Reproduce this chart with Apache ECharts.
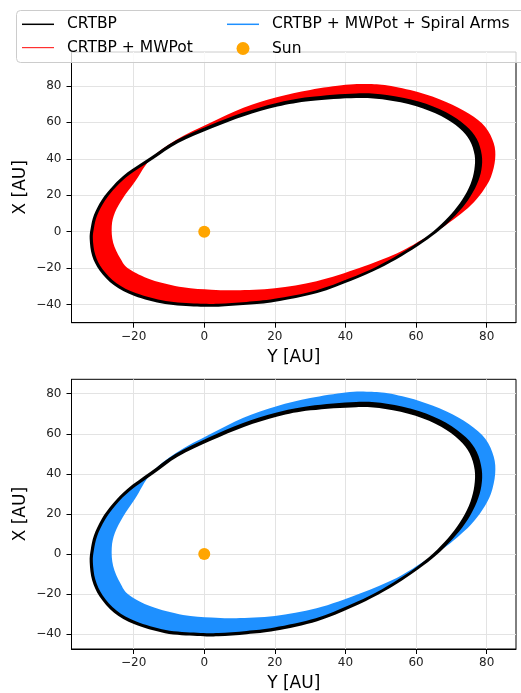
<!DOCTYPE html>
<html><head><meta charset="utf-8">
<script src="https://cdn.jsdelivr.net/npm/echarts@6/dist/echarts.min.js"></script>
<style>html,body{margin:0;padding:0;background:#fff}#c{width:521px;height:693px}</style>
</head><body><div id="c"></div>
<script>
// ---- data: [Y, X] in AU ----
// CRTBP band: outer and inner edge of the black orbit band
const crtbpOuter = [[-32.45,-4],[-31.75,-13.2],[-29.6,-21.4],[-25.55,-29.35],[-19.75,-35.2],[-11.1,-39.6],[-2,-41.0],[4,-41.1],[12.05,-40.1],[20.1,-38.4],[32,-33.6],[41.6,-26.9],[49.35,-20.3],[55.9,-13.45],[61.95,-5.95],[67.05,1.5],[71.25,9.25],[74.7,17.3],[77.2,25.9],[78.5,34],[78.6,42.1],[77.2,50.9],[74.1,58.2],[68.5,65.5],[60.75,71.4],[51.7,75.0],[43,75.9],[29.85,73.9],[20.25,70.55],[10.8,65.25],[1.25,58.15],[-8.2,49.95],[-15.3,40.85],[-21.8,32.45],[-25.8,25.25],[-29.05,17.45],[-31.25,9.15],[-32.15,2.05]];
const crtbpInner = [[-31.55,-4],[-30.85,-12.8],[-28.8,-20.6],[-24.85,-28.25],[-19.25,-33.8],[-10.9,-38.0],[-2,-39.4],[4,-39.5],[11.95,-38.5],[19.9,-36.8],[31.6,-32.2],[41.0,-25.7],[48.65,-19.3],[55.1,-12.55],[61.05,-5.25],[65.95,2.1],[69.95,9.75],[73.1,17.7],[75.4,26.1],[76.5,34],[76.6,41.9],[75.2,50.1],[72.3,56.8],[67.1,63.5],[59.85,69.0],[51.3,72.4],[43,73.3],[30.15,71.7],[20.75,68.65],[11.4,63.55],[1.95,56.65],[-7.4,48.65],[-14.5,39.75],[-21.0,31.55],[-25.0,24.55],[-28.15,16.95],[-30.35,8.85],[-31.25,1.95]];
// CRTBP + MWPot: first and last orbit of the precessing family (band = area swept between them)
const mwpotFirst = [[-32.0,-4],[-31.3,-13],[-29.2,-21],[-25.2,-28.8],[-19.5,-34.5],[-11,-38.8],[-2,-40.2],[4,-40.3],[12,-39.3],[20,-37.6],[31.8,-32.9],[41.3,-26.3],[49,-19.8],[55.5,-13],[61.5,-5.6],[66.5,1.8],[70.6,9.5],[73.9,17.5],[76.3,26],[77.5,34],[77.6,42],[76.2,50.5],[73.2,57.5],[67.8,64.5],[60.3,70.2],[51.5,73.7],[43,74.6],[30,72.8],[20.5,69.6],[11.1,64.4],[1.6,57.4],[-7.8,49.3],[-14.9,40.3],[-21.4,32.0],[-25.4,24.9],[-28.6,17.2],[-30.8,9.0],[-31.7,2]];
const mwpotLast = [[-26.2,3],[-25.8,-6],[-23.8,-14.5],[-21.3,-20.5],[-15,-26.3],[-6,-30.5],[2,-31.8],[9,-32.1],[20,-31.0],[31.8,-27.2],[44.1,-19.8],[54.5,-12],[61.5,-4.6],[67,1.8],[71.8,8.5],[75.5,14.5],[78.8,22],[81.2,30],[82.4,40],[82,48.5],[79.6,57.5],[75,64.7],[68.5,71.2],[60.5,76.6],[52,80.2],[46,81],[40,80.6],[30,77.8],[20.5,73.8],[11.1,68],[1.6,59.7],[-7.8,50.6],[-15.0,40.3],[-19.6,27.5],[-23,18.5],[-25.3,10.5]];
// CRTBP + MWPot + Spiral Arms: first and last orbit
const spiralFirst = [[-32.0,-4],[-31.3,-13],[-29.2,-21],[-25.2,-28.8],[-19.5,-34.5],[-11,-38.8],[-2,-40.2],[4,-40.3],[12,-39.3],[20,-37.6],[31.8,-32.9],[41.3,-26.3],[49,-19.8],[55.5,-13],[61.5,-5.6],[66.5,1.8],[70.6,9.5],[73.9,17.5],[76.3,26],[77.5,34],[77.6,42],[76.2,50.5],[73.2,57.5],[67.8,64.5],[60.3,70.2],[51.5,73.7],[43,74.6],[30,72.8],[20.5,69.6],[11.1,64.4],[1.6,57.4],[-7.8,49.3],[-14.9,40.3],[-21.4,32.0],[-25.4,24.9],[-28.6,17.2],[-30.8,9.0],[-31.7,2]];
const spiralLast = [[-26.2,3],[-25.8,-6],[-23.8,-14.5],[-21.3,-20.5],[-15,-26.3],[-6,-30.5],[2,-31.8],[9,-32.1],[20,-31.0],[31.8,-27.2],[44.1,-19.8],[54.5,-12],[61.5,-4.6],[67,1.8],[71.8,8.5],[75.5,14.5],[78.8,22],[81.2,30],[82.4,40],[82,48.5],[79.6,57.5],[75,64.7],[68.5,71.2],[60.5,76.6],[52,80.2],[46,81],[40,80.6],[30,77.8],[20.5,73.8],[11.1,68],[1.6,59.7],[-7.8,50.6],[-15.0,40.3],[-19.6,27.5],[-23,18.5],[-25.3,10.5]];
const sunPos = [[0, 0]];
const xTicks = [-20, 0, 20, 40, 60, 80];
const yTicks = [-40, -20, 0, 20, 40, 60, 80];
const names = ['CRTBP', 'CRTBP + MWPot', 'CRTBP + MWPot + Spiral Arms', 'Sun'];

// ---- rendering helpers ----
const FONT = 'DejaVu Sans';
function f(v){ return v.toFixed(2); }
function loopPath(pts){
  const n = pts.length;
  let d = 'M' + f(pts[0][0]) + ' ' + f(pts[0][1]);
  for (let i = 0; i < n; i++) {
    const p0 = pts[(i - 1 + n) % n], p1 = pts[i], p2 = pts[(i + 1) % n], p3 = pts[(i + 2) % n];
    const c1x = p1[0] + (p2[0] - p0[0]) / 6, c1y = p1[1] + (p2[1] - p0[1]) / 6;
    const c2x = p2[0] - (p3[0] - p1[0]) / 6, c2y = p2[1] - (p3[1] - p1[1]) / 6;
    d += 'C' + f(c1x) + ' ' + f(c1y) + ' ' + f(c2x) + ' ' + f(c2y) + ' ' + f(p2[0]) + ' ' + f(p2[1]);
  }
  return d + 'Z';
}
function area(pts){
  let a = 0;
  for (let i = 0; i < pts.length; i++) { const p = pts[i], q = pts[(i + 1) % pts.length]; a += p[0] * q[1] - q[0] * p[1]; }
  return a;
}
// two closed curves drawn with opposite winding: fills the region lying inside exactly one of them
function band(name, gi, loopA, loopB, color, z){
  return {
    type: 'custom', name: name, xAxisIndex: gi, yAxisIndex: gi, z: z, silent: true,
    itemStyle: { color: color },
    data: [loopA[0]],
    renderItem: function (params, api) {
      if (params.dataIndex !== 0) return null;
      const a = loopA.map(p => api.coord(p));
      let b = loopB.map(p => api.coord(p));
      if (Math.sign(area(a)) === Math.sign(area(b))) b = b.slice().reverse();
      return { type: 'path', shape: { pathData: loopPath(a) + ' ' + loopPath(b) }, style: { fill: color } };
    }
  };
}
const minus = v => String(v).replace('-', '\u2212');
function xAx(gi){
  return {
    type: 'value', gridIndex: gi, min: -37.6, max: 88.3, splitNumber: 6,
    name: 'Y [AU]', nameLocation: 'middle', nameGap: 26, nameMoveOverlap: false,
    nameTextStyle: { fontFamily: FONT, fontSize: 17, color: '#000' },
    axisLine: { onZero: false, lineStyle: { color: '#000', width: 1 } },
    axisTick: { show: true, length: 5, customValues: xTicks, lineStyle: { color: '#000' } },
    axisLabel: { customValues: xTicks, margin: 8, fontFamily: FONT, fontSize: 12, color: '#222', formatter: minus },
    splitLine: { show: true, lineStyle: { color: '#e3e3e3', width: 1 } }
  };
}
function yAx(gi, mn, mx){
  return {
    type: 'value', gridIndex: gi, min: mn, max: mx, splitNumber: 7,
    name: 'X [AU]', nameLocation: 'middle', nameGap: 42, nameRotate: 90, nameMoveOverlap: false,
    nameTextStyle: { fontFamily: FONT, fontSize: 17, color: '#000' },
    axisLine: { onZero: false, lineStyle: { color: '#000', width: 1 } },
    axisTick: { show: true, length: 5, customValues: yTicks, lineStyle: { color: '#000' } },
    axisLabel: { customValues: yTicks, margin: 10, fontFamily: FONT, fontSize: 12, color: '#222', formatter: minus },
    splitLine: { show: true, lineStyle: { color: '#e3e3e3', width: 1 } }
  };
}
function leg(name, icon, color, left, top, w, h, pad){
  return {
    data: [{ name: name, icon: icon, itemStyle: { color: color, opacity: 1 } }],
    left: left, top: top, itemWidth: w, itemHeight: h, padding: 0, z: 20,
    selectedMode: false,
    textStyle: { fontFamily: FONT, fontSize: 15.5, color: '#000', padding: [0, 0, 0, pad] }
  };
}

const chart = echarts.init(document.getElementById('c'), null, { renderer: 'canvas' });
chart.setOption({
  animation: false,
  backgroundColor: '#fff',
  grid: [
    { left: 71.5, right: 5, top: 52, height: 270.7, show: true, borderColor: '#000', borderWidth: 1 },
    { left: 71.5, right: 5, top: 379.3, height: 270.7, show: true, borderColor: '#000', borderWidth: 1 }
  ],
  xAxis: [xAx(0), xAx(1)],
  yAxis: [yAx(0, -49.9, 98.6), yAx(1, -47.5, 87.2)],
  legend: [
    leg(names[0], 'rect', '#000', 22, 16.3, 32, 1.5, 8),
    leg(names[1], 'rect', '#ff3030', 22, 39.6, 32, 1.2, 8),
    leg(names[2], 'rect', '#1e90ff', 227, 16.3, 32, 1.5, 8),
    leg(names[3], 'circle', '#ffa500', 236.5, 40.5, 13, 13, 17.5)
  ],
  graphic: [{
    type: 'rect', z: 10, silent: true,
    shape: { x: 16.5, y: 10.5, width: 520, height: 52, r: 4 },
    style: { fill: 'rgba(255,255,255,0.8)', stroke: '#cccccc', lineWidth: 1 }
  }],
  series: [
    band(names[1], 0, mwpotFirst, mwpotLast, '#ff0000', 2),
    band(names[0], 0, crtbpOuter, crtbpInner, '#000000', 3),
    band(names[2], 1, spiralFirst, spiralLast, '#1e90ff', 2),
    band(names[0], 1, crtbpOuter, crtbpInner, '#000000', 3),
    { type: 'scatter', name: names[3], xAxisIndex: 0, yAxisIndex: 0, data: sunPos, symbolSize: 12, itemStyle: { color: '#ffa500', opacity: 1 }, z: 4, silent: true },
    { type: 'scatter', name: names[3], xAxisIndex: 1, yAxisIndex: 1, data: sunPos, symbolSize: 12, itemStyle: { color: '#ffa500', opacity: 1 }, z: 4, silent: true }
  ]
});
</script></body></html>
